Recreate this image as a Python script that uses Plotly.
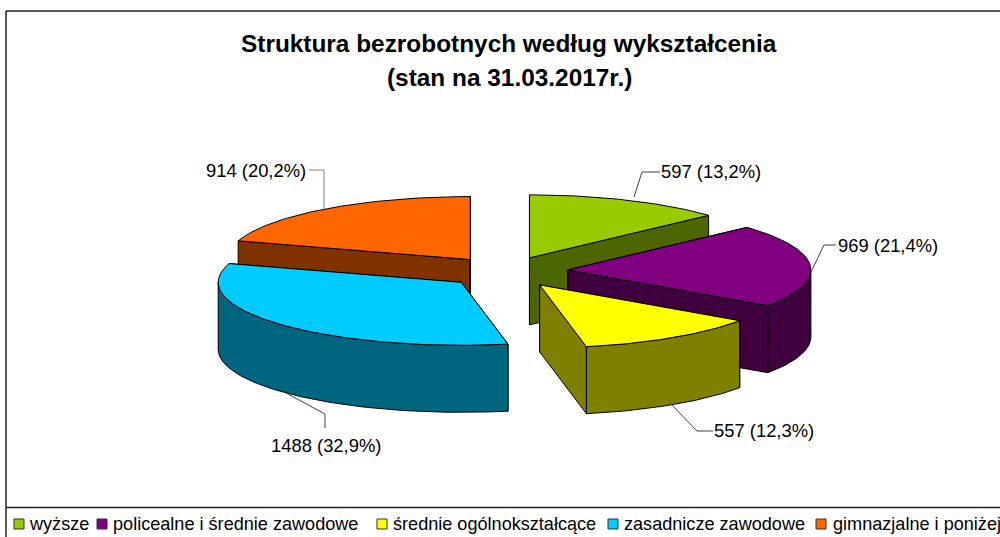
import math
import plotly.graph_objects as go

categories = ["wyższe", "policealne i średnie zawodowe", "średnie ogólnokształcące",
              "zasadnicze zawodowe", "gimnazjalne i poniżej"]
values = [597, 969, 557, 1488, 914]
top_colors = ["#99CC00", "#800080", "#FFFF00", "#00CCFF", "#FF6600"]
side_colors = ["#4D6600", "#400040", "#808000", "#006680", "#803300"]
title_lines = ["Struktura bezrobotnych według wykształcenia", "(stan na 31.03.2017r.)"]

FONT = "Liberation Sans"
CX, CY, RX, RY, DEPTH, EXPLODE = 505.5, 272, 243, 63, 67, 0.245
NUDGE_X = [0, 3, 1.5, 0, 0]
NUDGE_Y = [0, -1, 0, 0, 0]


def rim(ax, ay, deg):
    t = math.radians(deg)
    return ax + RX * math.sin(t), ay - RY * math.cos(t)


def arc(ax, ay, a0, a1, dy=0):
    n = max(2, int(abs(a1 - a0)) + 1)
    pts = [rim(ax, ay, a0 + (a1 - a0) * i / (n - 1)) for i in range(n)]
    return [p[0] for p in pts], [p[1] + dy for p in pts]


def poly(xs, ys, color, name=None):
    return go.Scatter(x=xs + xs[:1], y=ys + ys[:1], mode="lines", fill="toself", fillcolor=color,
                      line=dict(color="#000000", width=1), hoverinfo="skip", showlegend=False,
                      name=name)


total = sum(values)
fig = go.Figure()

angles = []
cum = 0
for v in values:
    a0 = 360 * cum / total
    cum += v
    angles.append((a0, 360 * cum / total))

for i in [0, 4, 1, 2, 3]:
    a0, a1 = angles[i]
    mid = math.radians((a0 + a1) / 2)
    ax = CX + EXPLODE * RX * math.sin(mid) + NUDGE_X[i]
    ay = CY - EXPLODE * RY * math.cos(mid) + NUDGE_Y[i]
    # radial walls
    for a in (a0, a1):
        rx_, ry_ = rim(ax, ay, a)
        fig.add_trace(poly([ax, rx_, rx_, ax], [ay, ry_, ry_ + DEPTH, ay + DEPTH], side_colors[i]))
    # outer wall, front half only
    f0, f1 = max(a0, 90), min(a1, 270)
    if f1 > f0:
        tx, ty = arc(ax, ay, f0, f1)
        bx, by = arc(ax, ay, f0, f1, DEPTH)
        fig.add_trace(poly(tx + bx[::-1], ty + by[::-1], side_colors[i]))
    # top face
    tx, ty = arc(ax, ay, a0, a1)
    fig.add_trace(poly([ax] + tx, [ay] + ty, top_colors[i], categories[i]))

# leader lines: (points), label anchor
leaders = [
    ([634, 642, 660], [197, 172, 172], 659, 171.5, "left", "#404040"),
    ([812, 824, 836], [270, 245, 245], 836, 245.5, "left", "#404040"),
    ([671, 697, 713], [404, 431, 431], 712, 430.5, "left", "#404040"),
    ([286, 325, 325], [393, 414, 428], 269, 445.5, "left", "#404040"),
    ([324, 324, 309], [209, 170, 170], 204, 170.5, "left", "#808080"),
]
for i, (lx, ly, tx, ty, anc, col) in enumerate(leaders):
    fig.add_trace(go.Scatter(x=lx, y=ly, mode="lines", line=dict(color=col, width=1),
                             hoverinfo="skip", showlegend=False))
    pct = f"{100 * values[i] / total:.1f}".replace(".", ",")
    fig.add_annotation(x=tx, y=ty, text=f"{values[i]} ({pct}%)", showarrow=False, xanchor=anc,
                       yanchor="middle", xref="x", yref="y",
                       font=dict(family=FONT, size=18.4, color="#000000"))

# legend
legend_marker_x = [19, 102, 382, 613, 821]
legend_text_x = [27, 111, 391, 622, 831]
legend_y = 524
fig.add_trace(go.Scatter(x=legend_marker_x, y=[legend_y] * 5, mode="markers",
                         marker=dict(symbol="square", size=10, color=top_colors,
                                     line=dict(color="#333333", width=1)),
                         hoverinfo="skip", showlegend=False))
for name, x in zip(categories, legend_text_x):
    fig.add_annotation(x=x, y=legend_y, text=name, showarrow=False, xanchor="left", yanchor="middle",
                       xref="x", yref="y", font=dict(family=FONT, size=18.1, color="#000000"))

for text, y in zip(title_lines, [43, 77]):
    fig.add_annotation(x=509, y=y, text=f"<b>{text}</b>", showarrow=False, xanchor="center",
                       yanchor="middle", xref="x", yref="y",
                       font=dict(family=FONT, size=24.4, color="#000000"))

frame = dict(color="#222222", width=1.5)
for x0, y0, x1, y1 in [(6, 11, 1000, 11), (6, 11, 6, 537), (6, 507.5, 1000, 507.5)]:
    fig.add_shape(type="line", x0=x0, y0=y0, x1=x1, y1=y1, xref="x", yref="y", line=frame)

fig.update_layout(width=1000, height=537, margin=dict(l=0, r=0, t=0, b=0),
                  paper_bgcolor="#FFFFFF", plot_bgcolor="#FFFFFF", showlegend=False,
                  xaxis=dict(range=[0, 1000], visible=False, fixedrange=True),
                  yaxis=dict(range=[537, 0], visible=False, fixedrange=True))
fig.write_html("out.html", config={"displayModeBar": False},
               post_script="document.body.style.margin='0';document.body.style.overflow='hidden';")
